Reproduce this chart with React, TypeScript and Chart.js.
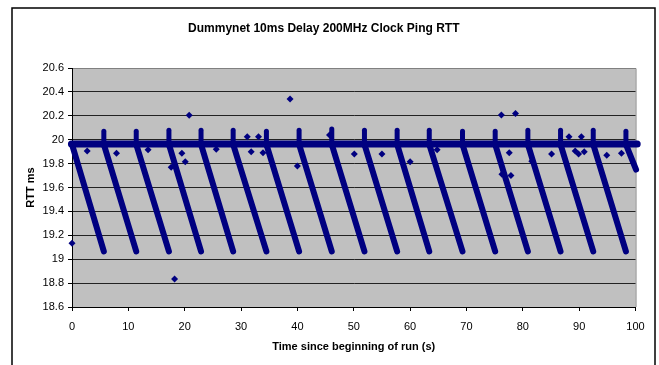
import React, { useEffect, useRef } from "react";
import { Chart, registerables } from "chart.js";

Chart.register(...registerables);

const TITLE = "Dummynet 10ms Delay 200MHz Clock Ping RTT";
const X_TITLE = "Time since beginning of run (s)";
const Y_TITLE = "RTT ms";

const X_TICKS = [0, 10, 20, 30, 40, 50, 60, 70, 80, 90, 100];
const Y_TICKS = [18.6, 18.8, 19, 19.2, 19.4, 19.6, 19.8, 20, 20.2, 20.4, 20.6];

// Each sawtooth ramp: starts near the baseline and falls linearly to ~19.06 ms
const rampStartTimes = [0, 5.65, 11.4, 17.2, 22.9, 28.6, 34.5, 40.3, 46.1, 51.9, 57.7, 63.4, 69.3, 75.1, 80.9, 86.7, 92.5, 98.3];
const rampEndTimes = [5.65, 11.4, 17.2, 22.9, 28.6, 34.5, 40.3, 46.1, 51.9, 57.7, 63.4, 69.3, 75.1, 80.9, 86.7, 92.5, 98.3, 100.1];
const rampStartRtt = [19.96, 19.96, 19.96, 19.96, 19.96, 19.96, 19.96, 19.96, 19.96, 19.96, 19.96, 19.96, 19.96, 19.96, 19.96, 19.96, 19.96, 19.96];
const rampEndRtt = [19.065, 19.065, 19.065, 19.065, 19.065, 19.065, 19.065, 19.065, 19.065, 19.065, 19.065, 19.065, 19.065, 19.065, 19.065, 19.065, 19.065, 19.75];

// Short upward spikes at each reset
const spikeTimes = [5.65, 11.4, 17.2, 22.9, 28.6, 34.5, 40.3, 46.1, 51.9, 57.7, 63.4, 69.3, 75.1, 80.9, 86.7, 92.5, 98.3];
const spikeTopRtt = [20.07, 20.07, 20.08, 20.08, 20.08, 20.07, 20.08, 20.09, 20.08, 20.08, 20.08, 20.07, 20.07, 20.08, 20.08, 20.08, 20.07];
const spikeBaseRtt = 19.95;

// Steady baseline of pings
const baselineTimes = [-0.1, 100.3];
const baselineRtt = [19.963, 19.963];

// Isolated samples
const outlierTimes = [0, 18.2, 20.8, 38.7, 7.9, 19.5, 20.1, 17.6, 31.1, 33.1, 31.8, 33.9, 40.0, 45.7, 50.1, 55.0, 60.0, 76.2, 78.7, 77.6, 76.3, 77.9, 81.6, 85.1, 88.2, 90.4, 89.3, 89.9, 90.9, 94.9, 97.5, 2.7, 13.5, 25.6, 64.8];
const outlierRtt = [19.133, 18.834, 20.205, 20.34, 19.886, 19.886, 19.816, 19.77, 20.025, 20.025, 19.9, 19.89, 19.78, 20.04, 19.88, 19.88, 19.816, 20.207, 20.22, 19.89, 19.71, 19.7, 19.82, 19.88, 20.025, 20.025, 19.905, 19.88, 19.9, 19.87, 19.886, 19.905, 19.915, 19.92, 19.915];

const NAVY = "#000080";

const framePlugin = {
  id: "frame",
  beforeDraw(chart: any) {
    const { ctx, chartArea: a } = chart;
    ctx.save();
    ctx.fillStyle = "#ffffff";
    ctx.fillRect(0, 0, chart.width, chart.height);
    ctx.strokeStyle = "#000000";
    ctx.lineWidth = 1.5;
    ctx.strokeRect(12, 8, 643, 420);
    ctx.fillStyle = "#c0c0c0";
    ctx.fillRect(a.left, a.top, a.right - a.left, a.bottom - a.top);
    ctx.strokeStyle = "#808080";
    ctx.lineWidth = 1;
    ctx.beginPath();
    ctx.moveTo(a.left, a.top + 0.5);
    ctx.lineTo(a.right + 0.5, a.top + 0.5);
    ctx.lineTo(a.right + 0.5, a.bottom);
    ctx.stroke();
    ctx.restore();
  },
};

export default function App() {
  const ref = useRef<HTMLCanvasElement | null>(null);

  useEffect(() => {
    if (!ref.current) return;
    const lineStyle = {
      showLine: true,
      borderColor: NAVY,
      backgroundColor: NAVY,
      pointRadius: 0,
      borderCapStyle: "round" as const,
      borderJoinStyle: "round" as const,
      clip: false as const,
    };
    const datasets: any[] = [];
    datasets.push({
      ...lineStyle,
      label: "baseline",
      borderWidth: 7,
      data: baselineTimes.map((t, i) => ({ x: t, y: baselineRtt[i] })),
    });
    rampStartTimes.forEach((t, i) => {
      datasets.push({
        ...lineStyle,
        label: "ramp" + i,
        borderWidth: 6,
        data: [
          { x: t, y: rampStartRtt[i] },
          { x: rampEndTimes[i], y: rampEndRtt[i] },
        ],
      });
    });
    spikeTimes.forEach((t, i) => {
      datasets.push({
        ...lineStyle,
        label: "spike" + i,
        borderWidth: 5,
        data: [
          { x: t, y: spikeBaseRtt },
          { x: t, y: spikeTopRtt[i] },
        ],
      });
    });
    datasets.push({
      label: "outliers",
      showLine: false,
      pointStyle: "rectRot",
      pointRadius: 3.5,
      pointBorderWidth: 0,
      pointBackgroundColor: NAVY,
      pointBorderColor: NAVY,
      clip: false,
      data: outlierTimes.map((t, i) => ({ x: t, y: outlierRtt[i] })),
    });

    const font = "'Liberation Sans', Arial, sans-serif";
    const chart = new Chart(ref.current, {
      type: "scatter",
      data: { datasets },
      plugins: [framePlugin],
      options: {
        animation: false,
        responsive: false,
        events: [],
        layout: { padding: { left: 12, right: 23.5, top: 0, bottom: 0 } },
        plugins: {
          legend: { display: false },
          tooltip: { enabled: false },
          title: {
            display: true,
            text: TITLE,
            color: "#000",
            font: { family: font, size: 12, weight: "bold" },
            padding: { top: 21.8, bottom: 31.8 },
          },
        },
        scales: {
          x: {
            type: "linear",
            min: 0,
            max: 100,
            afterBuildTicks: (s: any) => {
              s.ticks = X_TICKS.map((v) => ({ value: v }));
            },
            afterFit: (s: any) => {
              s.height = 58;
            },
            ticks: {
              color: "#000",
              font: { family: font, size: 11 },
              padding: 9,
              maxRotation: 0,
              autoSkip: false,
            },
            grid: {
              drawOnChartArea: false,
              drawTicks: true,
              tickLength: 4,
              tickColor: "#000",
              color: "#000",
            },
            border: { color: "#000", width: 1 },
            title: {
              display: true,
              text: X_TITLE,
              color: "#000",
              font: { family: font, size: 11, weight: "bold" },
              padding: { top: 0, bottom: 11.5 },
            },
          },
          y: {
            type: "linear",
            min: 18.6,
            max: 20.6,
            afterBuildTicks: (s: any) => {
              s.ticks = Y_TICKS.map((v) => ({ value: v }));
            },
            afterFit: (s: any) => {
              s.width = 60;
            },
            ticks: {
              color: "#000",
              font: { family: font, size: 11 },
              padding: 4,
              autoSkip: false,
              callback: (v: any) => String(Math.round(Number(v) * 10) / 10),
            },
            grid: {
              drawOnChartArea: true,
              drawTicks: true,
              tickLength: 4,
              tickColor: "#000",
              lineWidth: 1,
              color: (c: any) =>
                c.tick && Math.abs(c.tick.value - 20.6) < 1e-6 ? "#808080" : "#222",
            },
            border: { color: "#000", width: 1 },
            title: {
              display: true,
              text: Y_TITLE,
              color: "#000",
              font: { family: font, size: 11, weight: "bold" },
              padding: { top: 12.4, bottom: 0 },
            },
          },
        },
      },
    } as any);
    return () => chart.destroy();
  }, []);

  return (
    <div style={{ position: "fixed", left: 0, top: 0, width: 659, height: 365, background: "#fff" }}>
      <canvas ref={ref} width={659} height={365} style={{ display: "block", width: 659, height: 365 }} />
    </div>
  );
}
